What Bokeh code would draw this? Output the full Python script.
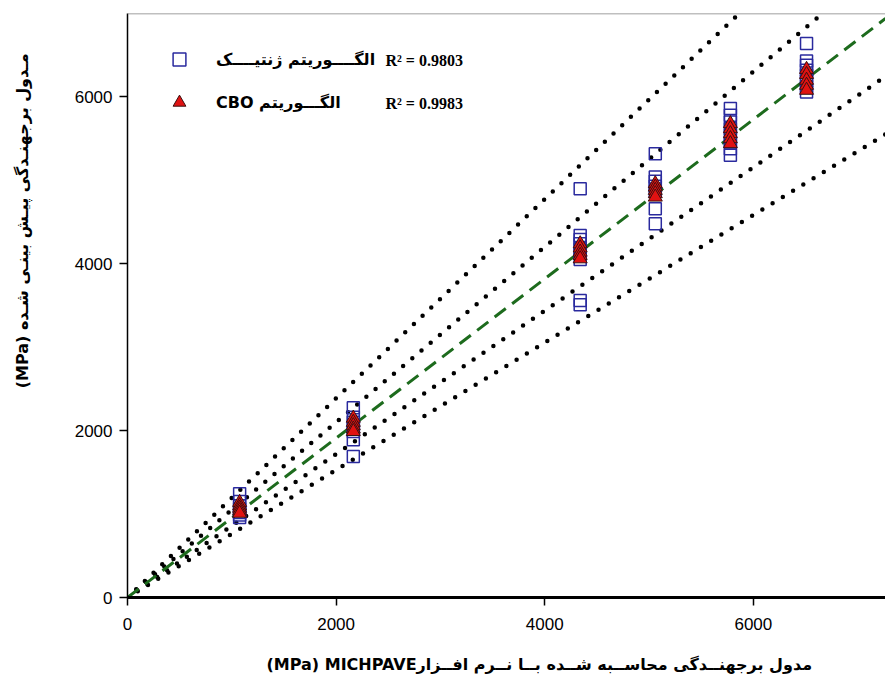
import math
from bokeh.plotting import figure
from bokeh.models import (Range1d, Label, Legend, LegendItem, Span, Title,
                          FixedTicker, LinearAxis, ColumnDataSource)
from bokeh.embed import file_html
from bokeh.resources import INLINE

# Resilient modulus computed by MICHPAVE (MPa), one value per test group
michpave_groups = [1075, 2165, 4340, 5060, 5780, 6510]

# Predicted resilient modulus (MPa) for each group - genetic algorithm
genetic_pred = [
    [1245, 1150, 1100, 1060, 1020, 990, 960],
    [2275, 2160, 2100, 2040, 1990, 1890, 1690],
    [4900, 4340, 4290, 4240, 4180, 4120, 4050, 3560, 3510],
    [5320, 5040, 4990, 4930, 4870, 4660, 4480],
    [5860, 5780, 5700, 5620, 5540, 5460, 5380, 5300],
    [6640, 6430, 6380, 6320, 6260, 6190, 6120, 6060],
]

# Predicted resilient modulus (MPa) for each group - CBO algorithm
cbo_pred = [
    [1140, 1100, 1070, 1040, 1010],
    [2150, 2100, 2060, 2020, 1990],
    [4240, 4190, 4140, 4100, 4060],
    [4960, 4920, 4880, 4840, 4800],
    [5680, 5620, 5560, 5500, 5440],
    [6330, 6270, 6200, 6140, 6080],
]

r2_genetic = 0.9803
r2_cbo = 0.9983

# Trend line through the origin and the dotted error bands around it
trend_slope = 0.955
band_factors = [1.25, 1.10, 0.90, 0.80]

axis_ticks = [0, 2000, 4000, 6000]
x_max = 7267
y_max = 7000
y_title_at = 4515   # where the vertical title is centred along the y axis

label_genetic = "الگــــوریتم ژنتیــــک"
label_cbo = "CBO الگـــوریتم"
x_title = "(MPa) MICHPAVEمدول برجهنــدگی محاســبه شــده بــا نــرم افــزار"
y_title = "(MPa) مـدول برجهنـدگی پیـش بینـی شـده"

ARABIC_FONT = "DejaVu Sans"
LATIN_FONT = "Liberation Sans"


def flatten(groups, values):
    xs, ys = [], []
    for gx, vals in zip(groups, values):
        for v in vals:
            xs.append(gx)
            ys.append(v)
    return xs, ys


gx, gy = flatten(michpave_groups, genetic_pred)
cx, cy = flatten(michpave_groups, cbo_pred)

p = figure(width=885, height=699, output_backend="svg", toolbar_location=None,
           x_range=Range1d(0, x_max), y_range=Range1d(0, y_max),
           min_border_left=127, min_border_right=0, min_border_top=13,
           min_border_bottom=102)
p.grid.visible = False
p.outline_line_color = None
p.background_fill_color = "white"
p.border_fill_color = "white"

# error bands (dotted) and trend (dashed)
line_x = [0, x_max]
for f in band_factors:
    s = trend_slope * f
    p.line(line_x, [0, s * x_max], line_color="black", line_width=4.5,
           line_dash="0 12", line_cap="round")
p.line(line_x, [0, trend_slope * x_max], line_color="#1d6b1d", line_width=3,
       line_dash="14 8")

sq = p.scatter(x="x", y="y", source=ColumnDataSource(dict(x=gx, y=gy)),
               marker="square", size=12, line_color="#2a2a9e", line_width=1.5,
               fill_alpha=0)
tri = p.scatter(x="x", y="y", source=ColumnDataSource(dict(x=cx, y=cy)),
                marker="triangle", size=14, fill_color="#e01212",
                line_color="#3a1010", line_width=1)

# axes
for ax in (p.xaxis, p.yaxis):
    ax.ticker = FixedTicker(ticks=axis_ticks)
    ax.minor_tick_line_color = None
    ax.major_tick_out = 8
    ax.major_tick_in = 0
    ax.major_tick_line_color = "black"
    ax.major_tick_line_width = 1.5
    ax.axis_line_color = "black"
    ax.major_label_text_font = LATIN_FONT
    ax.major_label_text_font_size = "17px"
    ax.major_label_text_color = "black"
p.xaxis.axis_line_width = 3
p.yaxis.axis_line_width = 1.5
p.xaxis.major_label_standoff = 12
p.yaxis.major_label_standoff = 7

# vertical y title carried by a bare outer axis, so it can sit off-centre
title_axis = LinearAxis(ticker=FixedTicker(ticks=[y_title_at]),
                        major_label_overrides={y_title_at: y_title},
                        major_label_orientation="vertical",
                        major_tick_out=0, major_tick_in=0,
                        major_tick_line_color=None, minor_tick_line_color=None,
                        axis_line_color=None, major_label_standoff=39,
                        major_label_text_font=ARABIC_FONT,
                        major_label_text_font_size="16px",
                        major_label_text_font_style="bold",
                        major_label_text_color="black")
p.add_layout(title_axis, "left")

p.add_layout(Span(location=y_max, dimension="width", line_color="#808080",
                  line_width=1.5))

legend = Legend(items=[LegendItem(label=label_genetic, renderers=[sq]),
                       LegendItem(label=label_cbo, renderers=[tri])],
                location=(36, 479), glyph_width=32, glyph_height=32,
                label_height=30, spacing=11, padding=0, margin=0,
                label_standoff=21, border_line_color=None,
                background_fill_alpha=0, label_text_font=ARABIC_FONT,
                label_text_font_size="16px", label_text_font_style="bold",
                label_text_color="black")
p.add_layout(legend)

for txt, yy in ((f"R\u00b2 = {r2_genetic:.4f}", 537),
                (f"R\u00b2 = {r2_cbo:.4f}", 494)):
    p.add_layout(Label(x=258, y=yy, x_units="screen", y_units="screen",
                       text=txt, text_font="Liberation Serif",
                       text_font_size="16px", text_font_style="bold",
                       text_color="black",
                       text_baseline="middle", text_align="left"))

p.add_layout(Title(text=x_title, align="left", offset=139, standoff=41,
                   text_font=ARABIC_FONT, text_font_size="16px",
                   text_font_style="bold", text_color="black"), "below")

open("out.html", "w").write(file_html(p, INLINE))
